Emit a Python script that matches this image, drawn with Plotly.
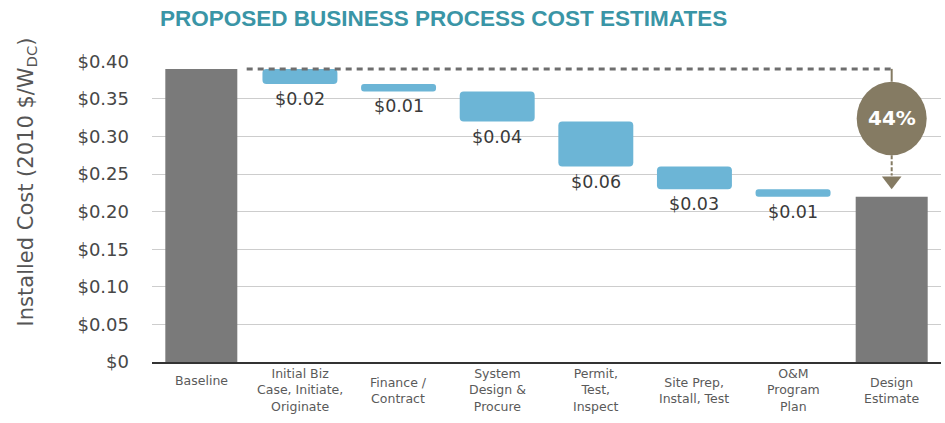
import plotly.graph_objects as go

# Cost build-down, installed cost in 2010 $/W(DC)
categories = ["Baseline", "Initial Biz", "Finance", "System Design",
              "Permit", "Site Prep", "O&M", "Design Estimate"]
axis_labels = ["Baseline",
               "Initial Biz<br>Case, Initiate,<br>Originate",
               "Finance /<br>Contract",
               "System<br>Design &<br>Procure",
               "Permit,<br>Test,<br>Inspect",
               "Site Prep,<br>Install, Test",
               "O&M<br>Program<br>Plan",
               "Design<br>Estimate"]
baseline_cost = 0.39
step_names = categories[1:-1]
step_savings = [0.02, 0.01, 0.04, 0.06, 0.03, 0.01]
estimate_cost = 0.22
y_ticks = [0, 0.05, 0.10, 0.15, 0.20, 0.25, 0.30, 0.35, 0.40]
y_tick_text = ["$0", "$0.05", "$0.10", "$0.15", "$0.20", "$0.25", "$0.30", "$0.35", "$0.40"]

GRAY = "#7a7a7a"
BLUE = "#6cb5d6"
OLIVE = "#857b63"
TEAL = "#3a95a6"
TXT = "#474747"

# floating step bars: each hangs from the running total
step_tops = []
running = baseline_cost
for s in step_savings:
    step_tops.append(running)
    running -= s
step_bases = [t - s for t, s in zip(step_tops, step_savings)]

est_idx = len(categories) - 1
circle_lo, circle_hi = 0.275, 0.373

fig = go.Figure()
fig.add_trace(go.Bar(
    x=[categories[0], categories[-1]], y=[baseline_cost, estimate_cost],
    marker=dict(color=GRAY, line=dict(width=0)), width=0.73,
    hoverinfo="skip"))
fig.add_trace(go.Bar(
    x=step_names, y=step_savings, base=step_bases,
    marker=dict(color=BLUE, line=dict(width=0), cornerradius=4), width=0.76,
    hoverinfo="skip"))
# arrowhead pointing at the design estimate
fig.add_trace(go.Scatter(
    x=[categories[-1]], y=[estimate_cost + 0.021], mode="markers",
    marker=dict(symbol="triangle-down", size=17, color=OLIVE, line=dict(width=0)),
    hoverinfo="skip"))

annotations = []
# value labels under each step bar
for name, b, s in zip(step_names, step_bases, step_savings):
    annotations.append(dict(
        x=name, y=b, xref="x", yref="y", text=f"${s:.2f}", showarrow=False,
        yanchor="top", yshift=-3, font=dict(family="DejaVu Sans", size=17.5, color="#3a3a3a")))

# category labels under the axis
for name, lab in zip(categories, axis_labels):
    multi = "<br>" in lab
    annotations.append(dict(
        x=name, xref="x", yref="paper",
        y=-28 / 301 if multi else -9 / 301,
        yanchor="middle" if multi else "top",
        text=lab, showarrow=False, align="center",
        font=dict(family="DejaVu Sans", size=12.5, color="#5a5a5a")))

# y axis title
annotations.append(dict(
    x=-125 / 789, y=0.60, xref="paper", yref="paper", xanchor="center", yanchor="middle",
    text="Installed Cost (2010 $/W<sub>DC</sub>)", textangle=-90, showarrow=False,
    font=dict(family="DejaVu Sans", size=21, color="#555555")))

# percent reduction callout
reduction = round((baseline_cost - estimate_cost) / baseline_cost * 100)
annotations.append(dict(
    x=est_idx, y=(circle_lo + circle_hi) / 2, xref="x", yref="y",
    text=f"<b>{reduction}%</b>", showarrow=False,
    font=dict(family="DejaVu Sans", size=20, color="white")))

shapes = [
    # dashed reference at baseline level
    dict(type="line", xref="x", yref="y", x0=0.46, x1=est_idx, y0=baseline_cost, y1=baseline_cost,
         line=dict(color="#6e6e6e", width=3, dash="6px,5px")),
    dict(type="line", xref="x", yref="y", x0=est_idx, x1=est_idx, y0=baseline_cost, y1=circle_hi,
         line=dict(color=OLIVE, width=2)),
    dict(type="line", xref="x", yref="y", x0=est_idx, x1=est_idx, y0=circle_lo,
         y1=estimate_cost + 0.028, line=dict(color=OLIVE, width=2, dash="4px,2px")),
    dict(type="circle", xref="x", yref="y", x0=est_idx - 0.355, x1=est_idx + 0.355,
         y0=circle_lo, y1=circle_hi, fillcolor=OLIVE, line=dict(width=0)),
]

fig.update_layout(
    width=945, height=423,
    margin=dict(l=152, r=4, t=61, b=61),
    paper_bgcolor="white", plot_bgcolor="white",
    barmode="overlay", showlegend=False,
    title=dict(text="<b>PROPOSED BUSINESS PROCESS COST ESTIMATES</b>",
               x=160 / 945, xanchor="left", xref="container",
               y=1 - 18 / 423, yanchor="middle", yref="container",
               font=dict(family="Liberation Sans Narrow, Liberation Sans", size=22.5, color=TEAL)),
    annotations=annotations, shapes=shapes,
)
fig.update_xaxes(type="category", categoryorder="array", categoryarray=categories,
                 range=[-0.5, len(categories) - 0.5], showticklabels=False,
                 showline=True, linecolor="#333333", linewidth=2, ticks="", showgrid=False)
fig.update_yaxes(range=[0, 0.4005], tickvals=y_ticks, ticktext=y_tick_text,
                 showgrid=True, gridcolor="#cdcdcd", gridwidth=1, zeroline=False,
                 ticks="", ticklabelstandoff=22,
                 tickfont=dict(family="DejaVu Sans", size=18, color=TXT))

fig.write_html("out.html")
